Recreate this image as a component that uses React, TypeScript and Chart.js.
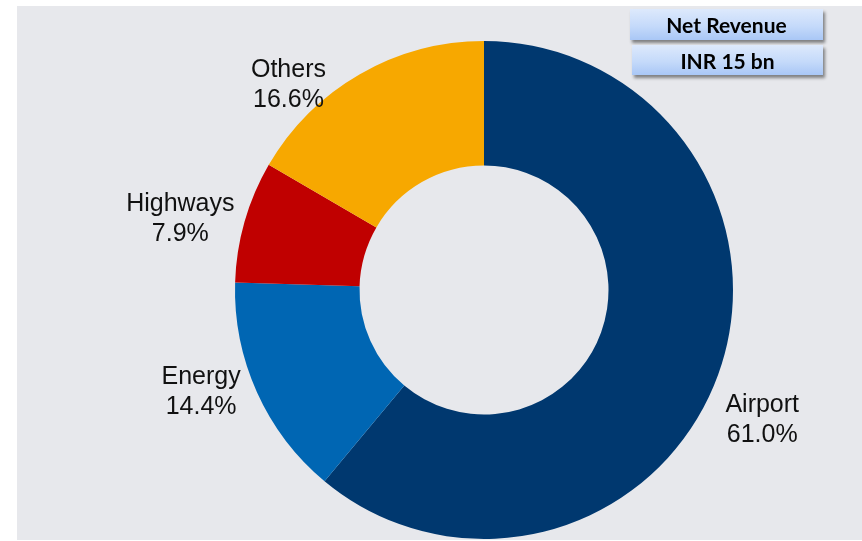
import React, { useEffect, useRef } from "react";
import { Chart, registerables } from "chart.js";

Chart.register(...registerables);

const categories = ["Airport", "Energy", "Highways", "Others"];
const shares = [61.0, 14.4, 7.9, 16.6];
const sliceColors = ["#00386F", "#0066B3", "#C00000", "#F7A800"];
const boxTitle = "Net Revenue";
const boxValue = "INR 15 bn";

// label placement relative to each slice: angle shift (deg) from mid-angle, radius factor of outer radius
const labelPlacement = [
  { dAngle: 4.6, rf: 1.228 },
  { dAngle: 4.9, rf: 1.204 },
  { dAngle: -2.3, rf: 1.255 },
  { dAngle: -13.3, rf: 1.147 },
];

const outsideLabels = {
  id: "outsideLabels",
  afterDatasetsDraw(chart: any) {
    const ctx = chart.ctx;
    const meta = chart.getDatasetMeta(0);
    const ds = chart.data.datasets[0];
    ctx.save();
    ctx.font = '25px "Liberation Sans", Arial, sans-serif';
    ctx.fillStyle = "#111111";
    ctx.textAlign = "center";
    ctx.textBaseline = "alphabetic";
    meta.data.forEach((arc: any, i: number) => {
      const p = arc.getProps(["x", "y", "startAngle", "endAngle", "outerRadius"], true);
      const place = labelPlacement[i] || { dAngle: 0, rf: 1.2 };
      const mid = (p.startAngle + p.endAngle) / 2 + (place.dAngle * Math.PI) / 180;
      const r = p.outerRadius * place.rf;
      const cx = p.x + Math.cos(mid) * r;
      const cy = p.y + Math.sin(mid) * r;
      const l1 = String(chart.data.labels[i]);
      const l2 = Number(ds.data[i]).toFixed(1) + "%";
      ctx.fillText(l1, cx, cy - 5);
      ctx.fillText(l2, cx, cy + 25);
    });
    ctx.restore();
  },
};

const boxStyle = (left: number, top: number, width: number, height: number): React.CSSProperties => ({
  position: "absolute",
  left,
  top,
  width,
  height,
  background: "linear-gradient(to bottom, #DDE9FC 0%, #C5DAFA 55%, #A9C7F6 100%)",
  boxShadow: "2px 3px 3px rgba(0,0,0,0.45)",
  display: "flex",
  alignItems: "center",
  justifyContent: "center",
  fontFamily: 'Lato, "Liberation Sans", sans-serif',
  fontWeight: 700,
  fontSize: 21,
  color: "#000",
});

export default function App() {
  const canvasRef = useRef<HTMLCanvasElement | null>(null);

  useEffect(() => {
    if (!canvasRef.current) return;
    const chart = new Chart(canvasRef.current, {
      type: "doughnut",
      data: {
        labels: categories,
        datasets: [
          {
            data: shares,
            backgroundColor: sliceColors,
            borderWidth: 0,
            hoverOffset: 0,
          },
        ],
      },
      options: {
        responsive: false,
        animation: false,
        cutout: "50%",
        layout: { padding: { top: 41, bottom: 2, left: 180, right: 74 } },
        plugins: {
          legend: { display: false },
          tooltip: { enabled: false },
        },
        events: [],
      },
      plugins: [outsideLabels],
    });
    return () => chart.destroy();
  }, []);

  return (
    <div style={{ position: "absolute", left: 0, top: 0, width: 862, height: 541, background: "#fff" }}>
      <div style={{ position: "absolute", left: 17, top: 6, width: 845, height: 534, background: "#E7E8EC" }} />
      <canvas ref={canvasRef} width={862} height={541} style={{ position: "absolute", left: 0, top: 0, width: 862, height: 541 }} />
      <div style={boxStyle(630, 9, 193, 31)}>{boxTitle}</div>
      <div style={boxStyle(632, 45, 191, 30)}>{boxValue}</div>
    </div>
  );
}
